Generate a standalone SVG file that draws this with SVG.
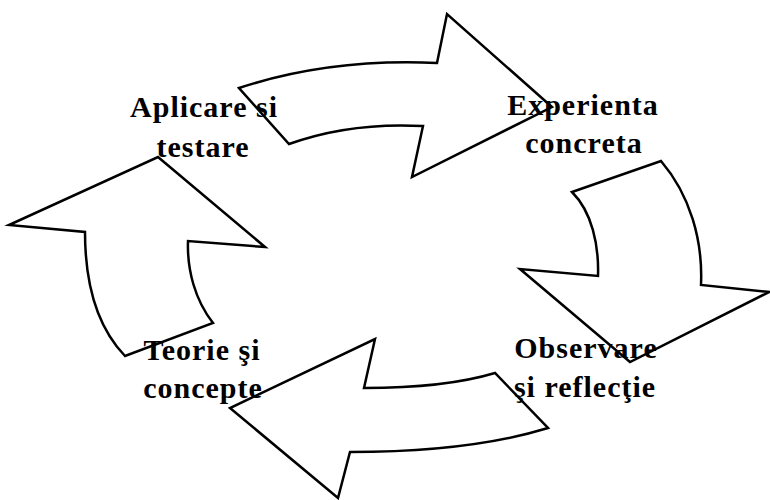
<svg xmlns="http://www.w3.org/2000/svg" width="770" height="500" viewBox="0 0 770 500">
<style>
.arrow{fill:#ffffff;stroke:#000000;stroke-width:2.5;stroke-linejoin:miter}
.lbl{font-family:"Liberation Serif","Times New Roman",serif;font-weight:bold;font-size:30px;letter-spacing:1px;fill:#000000;text-anchor:middle}
</style>
<rect width="770" height="500" fill="#ffffff"/>
<g id="connectors">
<path id="arrow-top" class="arrow" d="M239,88 Q330,58 437,63 L447,14 L552,107 L412,177 L423,126 Q350,122 289,144 Z"/>
<path id="arrow-right" class="arrow" d="M572,192 L661,161 C690,195 703,240 701,285 L769,292 L630,362 L520,269 L598,276 C599,245 592,212 572,192 Z"/>
<path id="arrow-bottom" class="arrow" d="M495,373 Q445,388 364,388 L375,339 L230,408 L338,498 L350,452 Q470,452 548,428 Z"/>
<path id="arrow-left" class="arrow" d="M158,157 L265,247 L188,241 C187,270 195,300 213,323 L125,356 C100,330 85,290 85,232 L9,225 Z"/>
</g>
<g id="node-aplicare">
<text class="lbl" x="204" y="117">Aplicare si</text>
<text class="lbl" x="203" y="157">testare</text>
</g>
<g id="node-experienta">
<text class="lbl" x="583" y="115">Experienta</text>
<text class="lbl" x="584" y="153">concreta</text>
</g>
<g id="node-observare">
<text class="lbl" x="586" y="358">Observare</text>
<text class="lbl" x="585" y="397">şi reflecţie</text>
</g>
<g id="node-teorie">
<text class="lbl" x="202" y="360">Teorie şi</text>
<text class="lbl" x="203" y="398">concepte</text>
</g>
</svg>
